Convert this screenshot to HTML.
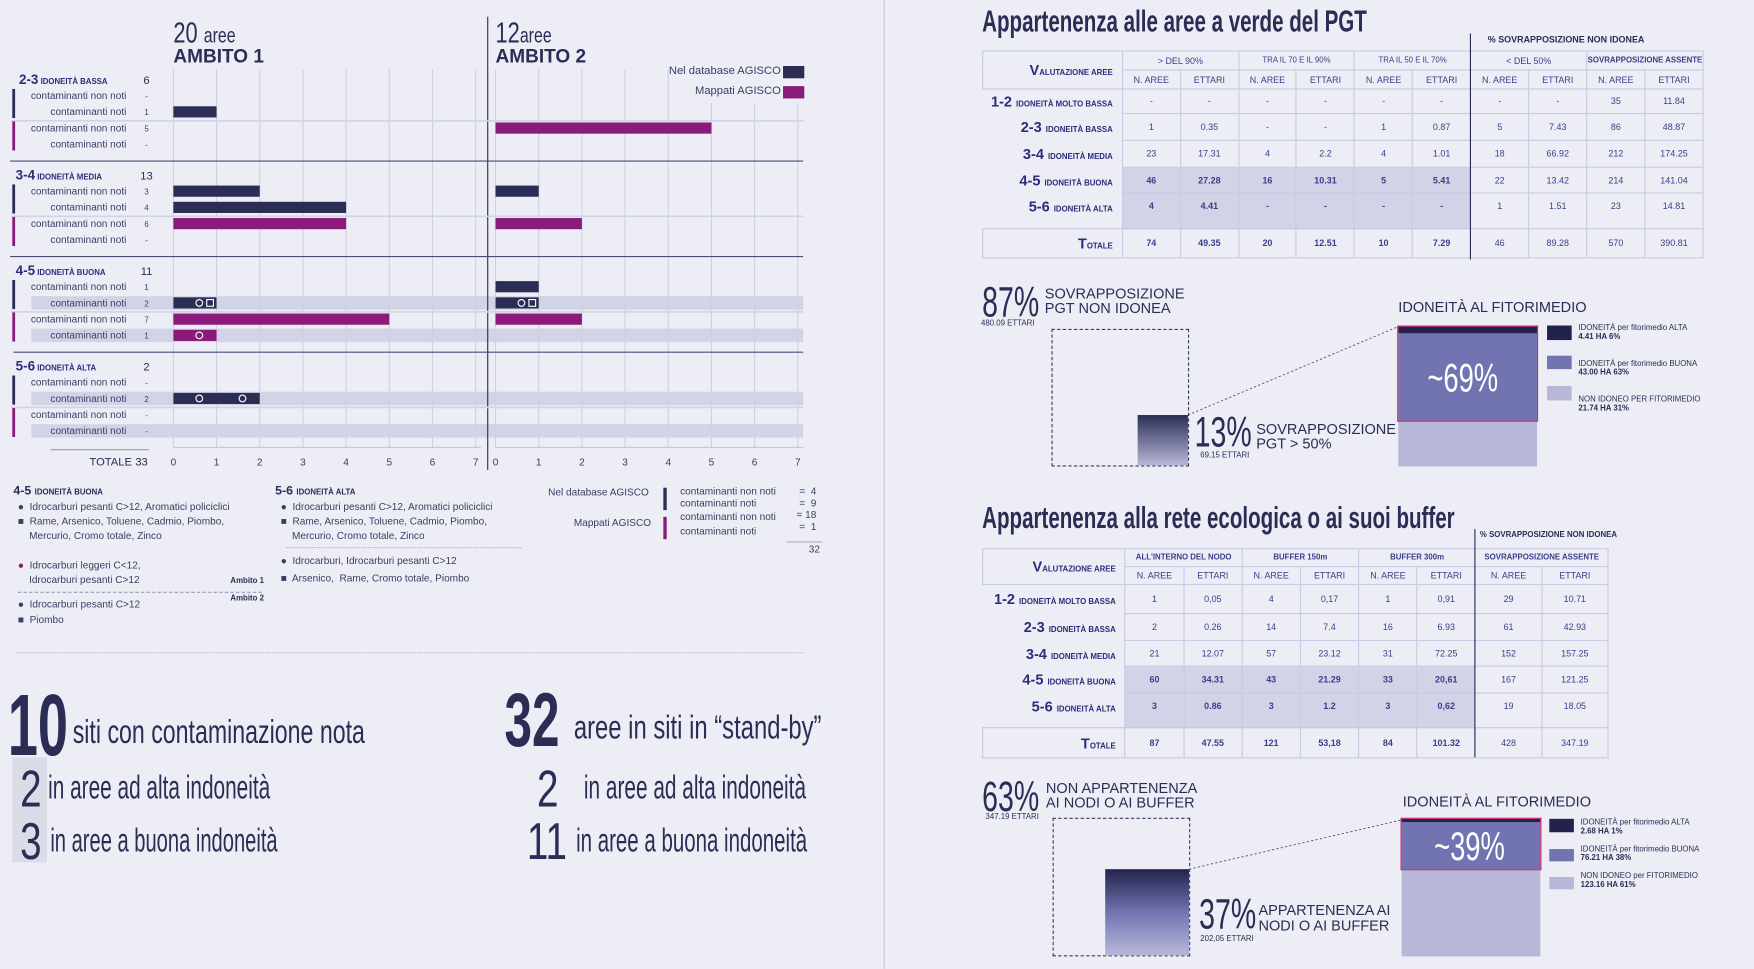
<!DOCTYPE html>
<html><head><meta charset="utf-8">
<style>
html,body{margin:0;padding:0;background:#ecedf5;}
body{width:1754px;height:969px;overflow:hidden;}
#wrap{position:absolute;left:0;top:0;width:1568px;height:866px;transform:scale(1.11862);transform-origin:0 0;font-family:"Liberation Sans Narrow","Liberation Sans",sans-serif;color:#2b2d55;}
.a{position:absolute;white-space:nowrap;}
.t{font-size:9px;color:#3b3d63;}
.cap{font-weight:bold;font-size:7px;letter-spacing:0;}
.big{font-weight:bold;transform-origin:0 0;}
.sx{transform-origin:0 0;}
table.tb{position:absolute;border-collapse:collapse;font-size:8px;color:#3b3d8a;}
table.tb td{border:1px solid #c9cae3;text-align:center;padding:0;}
.sh{background:#d3d3e7;}
.lbl{text-align:right !important;padding-right:8px !important;font-weight:bold;color:#2b2d7a;font-size:13px;}
.lbl small{font-size:7px;}
tr.top td{vertical-align:top;padding-top:7px;}
</style></head>
<body>
<div id="wrap">
<div class="a" style="left:790px;top:0;width:1px;height:866px;background:#c8c9d6"></div>

<div class="a big" style="left:155px;top:14px;font-size:26px;font-weight:normal;transform:scaleX(.75)">20 <span style="font-size:19px">aree</span></div>
<div class="a" style="left:155px;top:41px;font-size:17px;font-weight:bold">AMBITO 1</div>
<div class="a big" style="left:443px;top:14px;font-size:26px;font-weight:normal;transform:scaleX(.75)">12<span style="font-size:19px">aree</span></div>
<div class="a" style="left:443px;top:41px;font-size:17px;font-weight:bold">AMBITO 2</div>
<div class="a t" style="right:870px;top:58px;font-size:10px">Nel database AGISCO</div>
<div class="a" style="left:700px;top:59px;width:19px;height:11px;background:#2b2d55"></div>
<div class="a t" style="right:870px;top:76px;font-size:10px">Mappati AGISCO</div>
<div class="a" style="left:700px;top:77px;width:19px;height:11px;background:#8b1a7a"></div>

<svg id="chart" class="a" style="left:0;top:0" width="790" height="430"></svg>

<div class="a" style="left:12px;top:433px;font-size:11px;font-weight:bold">4-5 <span class="cap">IDONEITÀ BUONA</span></div>
<div class="a t" style="left:16px;top:447px;line-height:13px">
●&nbsp; Idrocarburi pesanti C&gt;12, Aromatici policiclici<br>■&nbsp; Rame, Arsenico, Toluene, Cadmio, Piombo,<br>&nbsp;&nbsp;&nbsp;&nbsp;Mercurio, Cromo totale, Zinco<br><br><span style="color:#8b1a7a">●</span>&nbsp; Idrocarburi leggeri C&lt;12,<br>&nbsp;&nbsp;&nbsp;&nbsp;Idrocarburi pesanti C&gt;12<br></div>
<div class="a" style="left:206px;top:516px;font-size:7px;font-weight:bold">Ambito 1</div>
<div class="a" style="left:16px;top:529px;width:218px;border-top:1px dashed #9a9ab8"></div>
<div class="a" style="left:206px;top:532px;font-size:7px;font-weight:bold">Ambito 2</div>
<div class="a t" style="left:16px;top:533px;line-height:14px">●&nbsp; Idrocarburi pesanti C&gt;12<br>■&nbsp; Piombo</div>
<div class="a" style="left:246px;top:433px;font-size:11px;font-weight:bold">5-6 <span class="cap">IDONEITÀ ALTA</span></div>
<div class="a t" style="left:251px;top:447px;line-height:13px">●&nbsp; Idrocarburi pesanti C&gt;12, Aromatici policiclici<br>■&nbsp; Rame, Arsenico, Toluene, Cadmio, Piombo,<br>&nbsp;&nbsp;&nbsp;&nbsp;Mercurio, Cromo totale, Zinco</div>
<div class="a" style="left:256px;top:489px;width:210px;border-top:1px dotted #b0b0c8"></div>
<div class="a t" style="left:251px;top:493px;line-height:16px">●&nbsp; Idrocarburi, Idrocarburi pesanti C&gt;12<br>■&nbsp; Arsenico,&nbsp; Rame, Cromo totale, Piombo</div>
<div class="a t" style="left:490px;top:435px">Nel database AGISCO</div>
<div class="a t" style="left:513px;top:462px">Mappati AGISCO</div>
<div class="a" style="left:593px;top:436px;width:3px;height:20px;background:#2b2d55"></div>
<div class="a" style="left:593px;top:462px;width:3px;height:20px;background:#8b1a7a"></div>
<div class="a t" style="left:608px;top:434px;line-height:10.5px">contaminanti non noti<br>contaminanti noti<br><span style="line-height:15px">contaminanti non noti</span><br>contaminanti noti</div>
<div class="a t" style="left:712px;top:434px;line-height:10.5px;text-align:right">= &nbsp;4<br>= &nbsp;9<br>= 18<br>= &nbsp;1</div>
<div class="a" style="left:703px;top:484px;width:32px;border-top:1px solid #b0b0c8"></div>
<div class="a t" style="left:723px;top:486px">32</div>
<div class="a" style="left:15px;top:583px;width:703px;border-top:1px dotted #b8b8cc"></div>

<div class="a big" style="left:7px;top:603px;font-size:78px;transform:scaleX(.62)">10</div>
<div class="a sx" style="left:65px;top:638px;font-size:30px;transform:scaleX(.69)">siti con contaminazione nota</div>
<div class="a" style="left:11px;top:677px;width:31px;height:94px;background:#dcdce8"></div>
<div class="a big" style="left:18px;top:678px;font-size:46px;font-weight:normal;transform:scaleX(.75)">2</div>
<div class="a sx" style="left:43px;top:688px;font-size:30px;transform:scaleX(.62)">in aree ad alta indoneità</div>
<div class="a big" style="left:18px;top:725px;font-size:46px;font-weight:normal;transform:scaleX(.75)">3</div>
<div class="a sx" style="left:45px;top:735px;font-size:30px;transform:scaleX(.6)">in aree a buona indoneità</div>
<div class="a big" style="left:451px;top:605px;font-size:68px;transform:scaleX(.65)">32</div>
<div class="a sx" style="left:513px;top:634px;font-size:30px;transform:scaleX(.71)">aree in siti in “stand-by”</div>
<div class="a big" style="left:480px;top:678px;font-size:46px;font-weight:normal;transform:scaleX(.75)">2</div>
<div class="a sx" style="left:522px;top:688px;font-size:30px;transform:scaleX(.62)">in aree ad alta indoneità</div>
<div class="a big" style="left:471px;top:725px;font-size:46px;font-weight:normal;transform:scaleX(.75)">11</div>
<div class="a sx" style="left:515px;top:735px;font-size:30px;transform:scaleX(.61)">in aree a buona indoneità</div>

<div class="a sx" style="left:878px;top:4px;font-size:27px;font-weight:bold;transform:scaleX(.68)">Appartenenza alle aree a verde del PGT</div>
<div class="a" style="left:1330px;top:31px;font-size:8px;font-weight:bold">% SOVRAPPOSIZIONE NON IDONEA</div>
<div class="a" style="left:1314px;top:30px;width:1px;height:202px;background:#2b2d55;z-index:2"></div>
<table class="tb" style="left:878px;top:45px;width:645px;">
<colgroup><col style="width:125px"><col span="10" style="width:52px"></colgroup>
<tr style="height:17px"><td rowspan="2" class="lbl" style="font-size:13px">V<small>ALUTAZIONE AREE</small></td><td colspan="2" style="font-size:8px">&gt; DEL 90%</td><td colspan="2" style="font-size:7px">TRA IL 70 E IL 90%</td><td colspan="2" style="font-size:7px">TRA IL 50 E IL 70%</td><td colspan="2">&lt; DEL 50%</td><td colspan="2" style="font-size:7px;font-weight:bold">SOVRAPPOSIZIONE ASSENTE</td></tr>
<tr style="height:17px"><td>N. AREE</td><td>ETTARI</td><td>N. AREE</td><td>ETTARI</td><td>N. AREE</td><td>ETTARI</td><td>N. AREE</td><td>ETTARI</td><td>N. AREE</td><td>ETTARI</td></tr>
<tr style="height:22px"><td class="lbl" style="border:none">1-2 <small>IDONEITÀ MOLTO BASSA</small></td><td>-</td><td>-</td><td>-</td><td>-</td><td>-</td><td>-</td><td>-</td><td>-</td><td>35</td><td>11.84</td></tr>
<tr style="height:24px"><td class="lbl" style="border:none">2-3 <small>IDONEITÀ BASSA</small></td><td>1</td><td>0.35</td><td>-</td><td>-</td><td>1</td><td>0.87</td><td>5</td><td>7.43</td><td>86</td><td>48.87</td></tr>
<tr style="height:24px"><td class="lbl" style="border:none">3-4 <small>IDONEITÀ MEDIA</small></td><td>23</td><td>17.31</td><td>4</td><td>2.2</td><td>4</td><td>1.01</td><td>18</td><td>66.92</td><td>212</td><td>174.25</td></tr>
<tr style="height:23px;font-weight:bold"><td class="lbl" style="border:none">4-5 <small>IDONEITÀ BUONA</small></td><td class="sh">46</td><td class="sh">27.28</td><td class="sh">16</td><td class="sh">10.31</td><td class="sh">5</td><td class="sh">5.41</td><td style="font-weight:normal">22</td><td style="font-weight:normal">13.42</td><td style="font-weight:normal">214</td><td style="font-weight:normal">141.04</td></tr>
<tr class="top" style="height:32px;font-weight:bold"><td class="lbl" style="border:none;padding-top:4px">5-6 <small>IDONEITÀ ALTA</small></td><td class="sh">4</td><td class="sh">4.41</td><td class="sh">-</td><td class="sh">-</td><td class="sh">-</td><td class="sh">-</td><td style="font-weight:normal">1</td><td style="font-weight:normal">1.51</td><td style="font-weight:normal">23</td><td style="font-weight:normal">14.81</td></tr>
<tr style="height:26px"><td class="lbl">T<small>OTALE</small></td><td><b>74</b></td><td><b>49.35</b></td><td><b>20</b></td><td><b>12.51</b></td><td><b>10</b></td><td><b>7.29</b></td><td>46</td><td>89.28</td><td>570</td><td>390.81</td></tr>
</table>

<div class="a big" style="left:878px;top:250px;font-size:38px;font-weight:normal;transform:scaleX(.67)">87%</div>
<div class="a" style="left:934px;top:256px;font-size:13px;line-height:13px">SOVRAPPOSIZIONE<br>PGT NON IDONEA</div>
<div class="a" style="left:877px;top:286px;font-size:7px">480.09 ETTARI</div>
<div class="a" style="left:940px;top:294px;width:121px;height:121px;border:1px dashed #3b3d63"></div>
<div class="a" style="left:1017px;top:371px;width:45px;height:45px;background:linear-gradient(#2b2d55,#b7b8d8)"></div>
<svg class="a" style="left:0;top:0" width="1568" height="866"><line x1="1062" y1="371" x2="1250" y2="292" stroke="#555" stroke-dasharray="2,2" stroke-width=".8"/><line x1="1063" y1="777" x2="1253" y2="733" stroke="#555" stroke-dasharray="2,2" stroke-width=".8"/></svg>
<div class="a big" style="left:1068px;top:366px;font-size:38px;font-weight:normal;transform:scaleX(.67)">13%</div>
<div class="a" style="left:1123px;top:377px;font-size:13px;line-height:13px">SOVRAPPOSIZIONE<br>PGT &gt; 50%</div>
<div class="a" style="left:1073px;top:404px;font-size:7px">69.15 ETTARI</div>
<div class="a" style="left:1250px;top:267px;font-size:13px">IDONEITÀ AL FITORIMEDIO</div>
<div class="a" style="left:1250px;top:376px;width:124px;height:41px;background:#b7b8d8"></div>
<div class="a" style="left:1250px;top:298px;width:124px;height:78px;background:#7174b0"></div>
<div class="a" style="left:1250px;top:292px;width:124px;height:6px;background:#22234d"></div>
<div class="a" style="left:1249px;top:291px;width:124px;height:84px;border:1px solid #d2246a"></div>
<div class="a" style="left:1276px;top:317px;font-size:36px;color:#fff;transform:scaleX(.68);transform-origin:0 0">~69%</div>
<div class="a" style="left:1383px;top:291px;width:22px;height:13px;background:#22234d"></div>
<div class="a" style="left:1383px;top:318px;width:22px;height:12px;background:#7174b0"></div>
<div class="a" style="left:1383px;top:345px;width:22px;height:13px;background:#b7b8d8"></div>
<div class="a" style="left:1411px;top:290px;font-size:7px;line-height:8px">IDONEITÀ per fitorimedio ALTA<br><b>4.41 HA 6%</b><br><br><br>IDONEITÀ per fitorimedio BUONA<br><b>43.00 HA 63%</b><br><br><br>NON IDONEO PER FITORIMEDIO<br><b>21.74 HA 31%</b></div>

<div class="a sx" style="left:878px;top:448px;font-size:27px;font-weight:bold;transform:scaleX(.68)">Appartenenza alla rete ecologica o ai suoi buffer</div>
<div class="a" style="left:1323px;top:475px;font-size:7px;font-weight:bold">% SOVRAPPOSIZIONE NON IDONEA</div>
<div class="a" style="left:1318px;top:473px;width:1px;height:204px;background:#2b2d55;z-index:2"></div>
<table class="tb" style="left:878px;top:490px;width:560px;">
<colgroup><col style="width:127px"><col span="6" style="width:52px"><col span="2" style="width:59px"></colgroup>
<tr style="height:16px"><td rowspan="2" class="lbl" style="font-size:13px">V<small>ALUTAZIONE AREE</small></td><td colspan="2" style="font-size:7px;font-weight:bold">ALL'INTERNO DEL NODO</td><td colspan="2" style="font-size:7px;font-weight:bold">BUFFER 150m</td><td colspan="2" style="font-size:7px;font-weight:bold">BUFFER 300m</td><td colspan="2" style="font-size:7px;font-weight:bold">SOVRAPPOSIZIONE ASSENTE</td></tr>
<tr style="height:16px"><td>N. AREE</td><td>ETTARI</td><td>N. AREE</td><td>ETTARI</td><td>N. AREE</td><td>ETTARI</td><td>N. AREE</td><td>ETTARI</td></tr>
<tr style="height:26px"><td class="lbl" style="border:none">1-2 <small>IDONEITÀ MOLTO BASSA</small></td><td>1</td><td>0,05</td><td>4</td><td>0,17</td><td>1</td><td>0,91</td><td>29</td><td>10.71</td></tr>
<tr style="height:24px"><td class="lbl" style="border:none">2-3 <small>IDONEITÀ BASSA</small></td><td>2</td><td>0.26</td><td>14</td><td>7.4</td><td>16</td><td>6.93</td><td>61</td><td>42.93</td></tr>
<tr style="height:23px"><td class="lbl" style="border:none">3-4 <small>IDONEITÀ MEDIA</small></td><td>21</td><td>12.07</td><td>57</td><td>23.12</td><td>31</td><td>72.25</td><td>152</td><td>157.25</td></tr>
<tr style="height:24px;font-weight:bold"><td class="lbl" style="border:none">4-5 <small>IDONEITÀ BUONA</small></td><td class="sh">60</td><td class="sh">34.31</td><td class="sh">43</td><td class="sh">21.29</td><td class="sh">33</td><td class="sh">20,61</td><td style="font-weight:normal">167</td><td style="font-weight:normal">121.25</td></tr>
<tr class="top" style="height:31px;font-weight:bold"><td class="lbl" style="border:none;padding-top:4px">5-6 <small>IDONEITÀ ALTA</small></td><td class="sh">3</td><td class="sh">0.86</td><td class="sh">3</td><td class="sh">1.2</td><td class="sh">3</td><td class="sh">0,62</td><td style="font-weight:normal">19</td><td style="font-weight:normal">18.05</td></tr>
<tr style="height:27px"><td class="lbl">T<small>OTALE</small></td><td><b>87</b></td><td><b>47.55</b></td><td><b>121</b></td><td><b>53,18</b></td><td><b>84</b></td><td><b>101.32</b></td><td>428</td><td>347.19</td></tr>
</table>

<div class="a big" style="left:878px;top:692px;font-size:38px;font-weight:normal;transform:scaleX(.67)">63%</div>
<div class="a" style="left:935px;top:698px;font-size:13px;line-height:13px">NON APPARTENENZA<br>AI NODI O AI BUFFER</div>
<div class="a" style="left:881px;top:727px;font-size:7px">347.19 ETTARI</div>
<div class="a" style="left:941px;top:731px;width:121px;height:122px;border:1px dashed #3b3d63"></div>
<div class="a" style="left:988px;top:777px;width:75px;height:77px;background:linear-gradient(#22234d,#7174b0 50%,#b7b8d8)"></div>
<div class="a big" style="left:1072px;top:797px;font-size:38px;font-weight:normal;transform:scaleX(.67)">37%</div>
<div class="a" style="left:1125px;top:807px;font-size:13px;line-height:14px">APPARTENENZA AI<br>NODI O AI BUFFER</div>
<div class="a" style="left:1073px;top:836px;font-size:7px">202,05 ETTARI</div>
<div class="a" style="left:1254px;top:709px;font-size:13px">IDONEITÀ AL FITORIMEDIO</div>
<div class="a" style="left:1253px;top:777px;width:124px;height:78px;background:#b7b8d8"></div>
<div class="a" style="left:1253px;top:735px;width:124px;height:42px;background:#7174b0"></div>
<div class="a" style="left:1253px;top:732px;width:124px;height:3px;background:#22234d"></div>
<div class="a" style="left:1252px;top:731px;width:124px;height:45px;border:1px solid #d2246a"></div>
<div class="a" style="left:1282px;top:736px;font-size:36px;color:#fff;transform:scaleX(.68);transform-origin:0 0">~39%</div>
<div class="a" style="left:1385px;top:732px;width:22px;height:12px;background:#22234d"></div>
<div class="a" style="left:1385px;top:759px;width:22px;height:11px;background:#7174b0"></div>
<div class="a" style="left:1385px;top:784px;width:22px;height:11px;background:#b7b8d8"></div>
<div class="a" style="left:1413px;top:732px;font-size:7px;line-height:8px">IDONEITÀ per fitorimedio ALTA<br><b>2.68 HA 1%</b><br><br>IDONEITÀ per fitorimedio BUONA<br><b>76.21 HA 38%</b><br><br>NON IDONEO per FITORIMEDIO<br><b>123.16 HA 61%</b></div>
</div>

<script>
const groupRanges = ['2-3','3-4','4-5','5-6'];
const groupNames = ['IDONEITÀ BASSA','IDONEITÀ MEDIA','IDONEITÀ BUONA','IDONEITÀ ALTA'];
const groupTotals = ['6','13','11','2'];
const rowLabels = ['contaminanti non noti','contaminanti noti','contaminanti non noti','contaminanti noti'];
const rowCounts = ['-','1','5','-','3','4','6','-','1','2','7','1','-','2','-','-'];
const ambito1 = [0,1,0,0, 2,4,4,0, 0,1,5,1, 0,2,0,0];
const ambito2 = [0,0,5,0, 1,0,2,0, 1,1,2,0, 0,0,0,0];
const ticks = [0,1,2,3,4,5,6,7];
const circles1 = {9:[0.6],11:[0.6],13:[0.6,1.6]};
const squares1 = {9:[0.85]};
const circles2 = {9:[0.6]};
const squares2 = {9:[0.85]};
const totalLabel = '33';

const svg = document.getElementById('chart');
const NS = 'http://www.w3.org/2000/svg';
function x1(v){return 155 + v*38.6;}
function x2(v){return 443 + v*38.6;}
function gy(g){return 71 + g*85.4;}
function ry(i){return gy(Math.floor(i/4)) + 14.5*((i%4)+1);}
function mk(tag, attrs){const e=document.createElementNS(NS,tag);for(const k in attrs)e.setAttribute(k,attrs[k]);svg.appendChild(e);return e;}
function txt(x,y,s,attrs){const e=mk('text',Object.assign({x:x,y:y},attrs));e.textContent=s;return e;}

[9,11,13,15].forEach(i=>{
  const r=mk('rect',{x:28,y:ry(i)-6,width:690,height:12,fill:'#d3d3e7'});
  
  
});
ticks.forEach(t=>{
  const l=mk('line',{x1:x1(t),x2:x1(t),y1:62,y2:400,stroke:'#d0d0e4','stroke-width':1});
  
  
  const l2=mk('line',{x1:x2(t),x2:x2(t),y1:t>=5?92:62,y2:400,stroke:'#d0d0e4','stroke-width':1});
  
  
  const a=txt(x1(t),416,String(t),{'font-size':9,fill:'#3b3d63','text-anchor':'middle'});
  
  
  const b=txt(x2(t),416,String(t),{'font-size':9,fill:'#3b3d63','text-anchor':'middle'});
  
  
});
const ax=mk('line',{x1:155,x2:430,y1:400,y2:400,stroke:'#c8c8dc'});


const ax2=mk('line',{x1:443,x2:718,y1:400,y2:400,stroke:'#c8c8dc'});


const sep=mk('line',{x1:436,x2:436,y1:15,y2:420,stroke:'#2b2d55','stroke-width':1});



groupRanges.forEach((g,gi)=>{
  const y=gy(gi);
  const h=txt(gi===0?17:14,y+4,g,{'font-size':12,'font-weight':'bold',fill:'#2b2d7a'});
  
  
  const ts=document.createElementNS(NS,'tspan');ts.setAttribute('font-size','7');ts.textContent=' '+groupNames[gi];h.appendChild(ts);
  const tt=txt(131,y+4,groupTotals[gi],{'font-size':10,fill:'#2b2d55','text-anchor':'middle'});
  
  
  const ll=mk('line',{x1:10,x2:718,y1:ry(gi*4+1)+8,y2:ry(gi*4+1)+8,stroke:'#d3d3e7','stroke-width':1.5});
  
  
  if(gi<3){const dl=mk('line',{x1:gi===2?12:9,x2:718,y1:ry(gi*4+3)+15,y2:ry(gi*4+3)+15,stroke:'#4a4c78','stroke-width':1});
    
    }
  const db=mk('rect',{x:11,y:ry(gi*4)-6,width:2.5,height:26,fill:'#2b2d55'});
  
  
  const pb=mk('rect',{x:11,y:ry(gi*4+2)-6,width:2.5,height:26,fill:'#8b1a7a'});
  
  
});
const tl=mk('line',{x1:45,x2:133,y1:402,y2:402,stroke:'#9a9ab8'});


const tot=txt(80,416,'TOTALE',{'font-size':10,fill:'#2b2d55'});


const totv=txt(121,416,totalLabel,{'font-size':10,fill:'#2b2d55'});



rowCounts.forEach((c,i)=>{
  const y=ry(i);
  const lb=txt(113,y+3,rowLabels[i%4],{'font-size':9,fill:'#3b3d63','text-anchor':'end'});
  
  
  const cv=txt(131,y+3,c,{'font-size':7,fill:'#3b3d63','text-anchor':'middle'});
  
  
  const col=(i%4)<2?'#2b2d55':'#8b1a7a';
  if(ambito1[i]>0){const b=mk('rect',{x:x1(0),y:y-5,width:x1(ambito1[i])-x1(0),height:10,fill:col});
    
    }
  if(ambito2[i]>0){const b=mk('rect',{x:x2(0),y:y-5,width:x2(ambito2[i])-x2(0),height:10,fill:col});
    
    }
  (circles1[i]||[]).forEach(v=>{const c1=mk('circle',{cx:x1(v),cy:y,r:3,fill:'none',stroke:'#fff','stroke-width':1});
    
    });
  (squares1[i]||[]).forEach(v=>{const s=mk('rect',{x:x1(v)-3,y:y-3,width:6,height:6,fill:'none',stroke:'#fff','stroke-width':1});
    
    });
  (circles2[i]||[]).forEach(v=>{const c1=mk('circle',{cx:x2(v),cy:y,r:3,fill:'none',stroke:'#fff','stroke-width':1});
    
    });
  (squares2[i]||[]).forEach(v=>{const s=mk('rect',{x:x2(v)-3,y:y-3,width:6,height:6,fill:'none',stroke:'#fff','stroke-width':1});
    
    });
});
</script>
</body></html>
